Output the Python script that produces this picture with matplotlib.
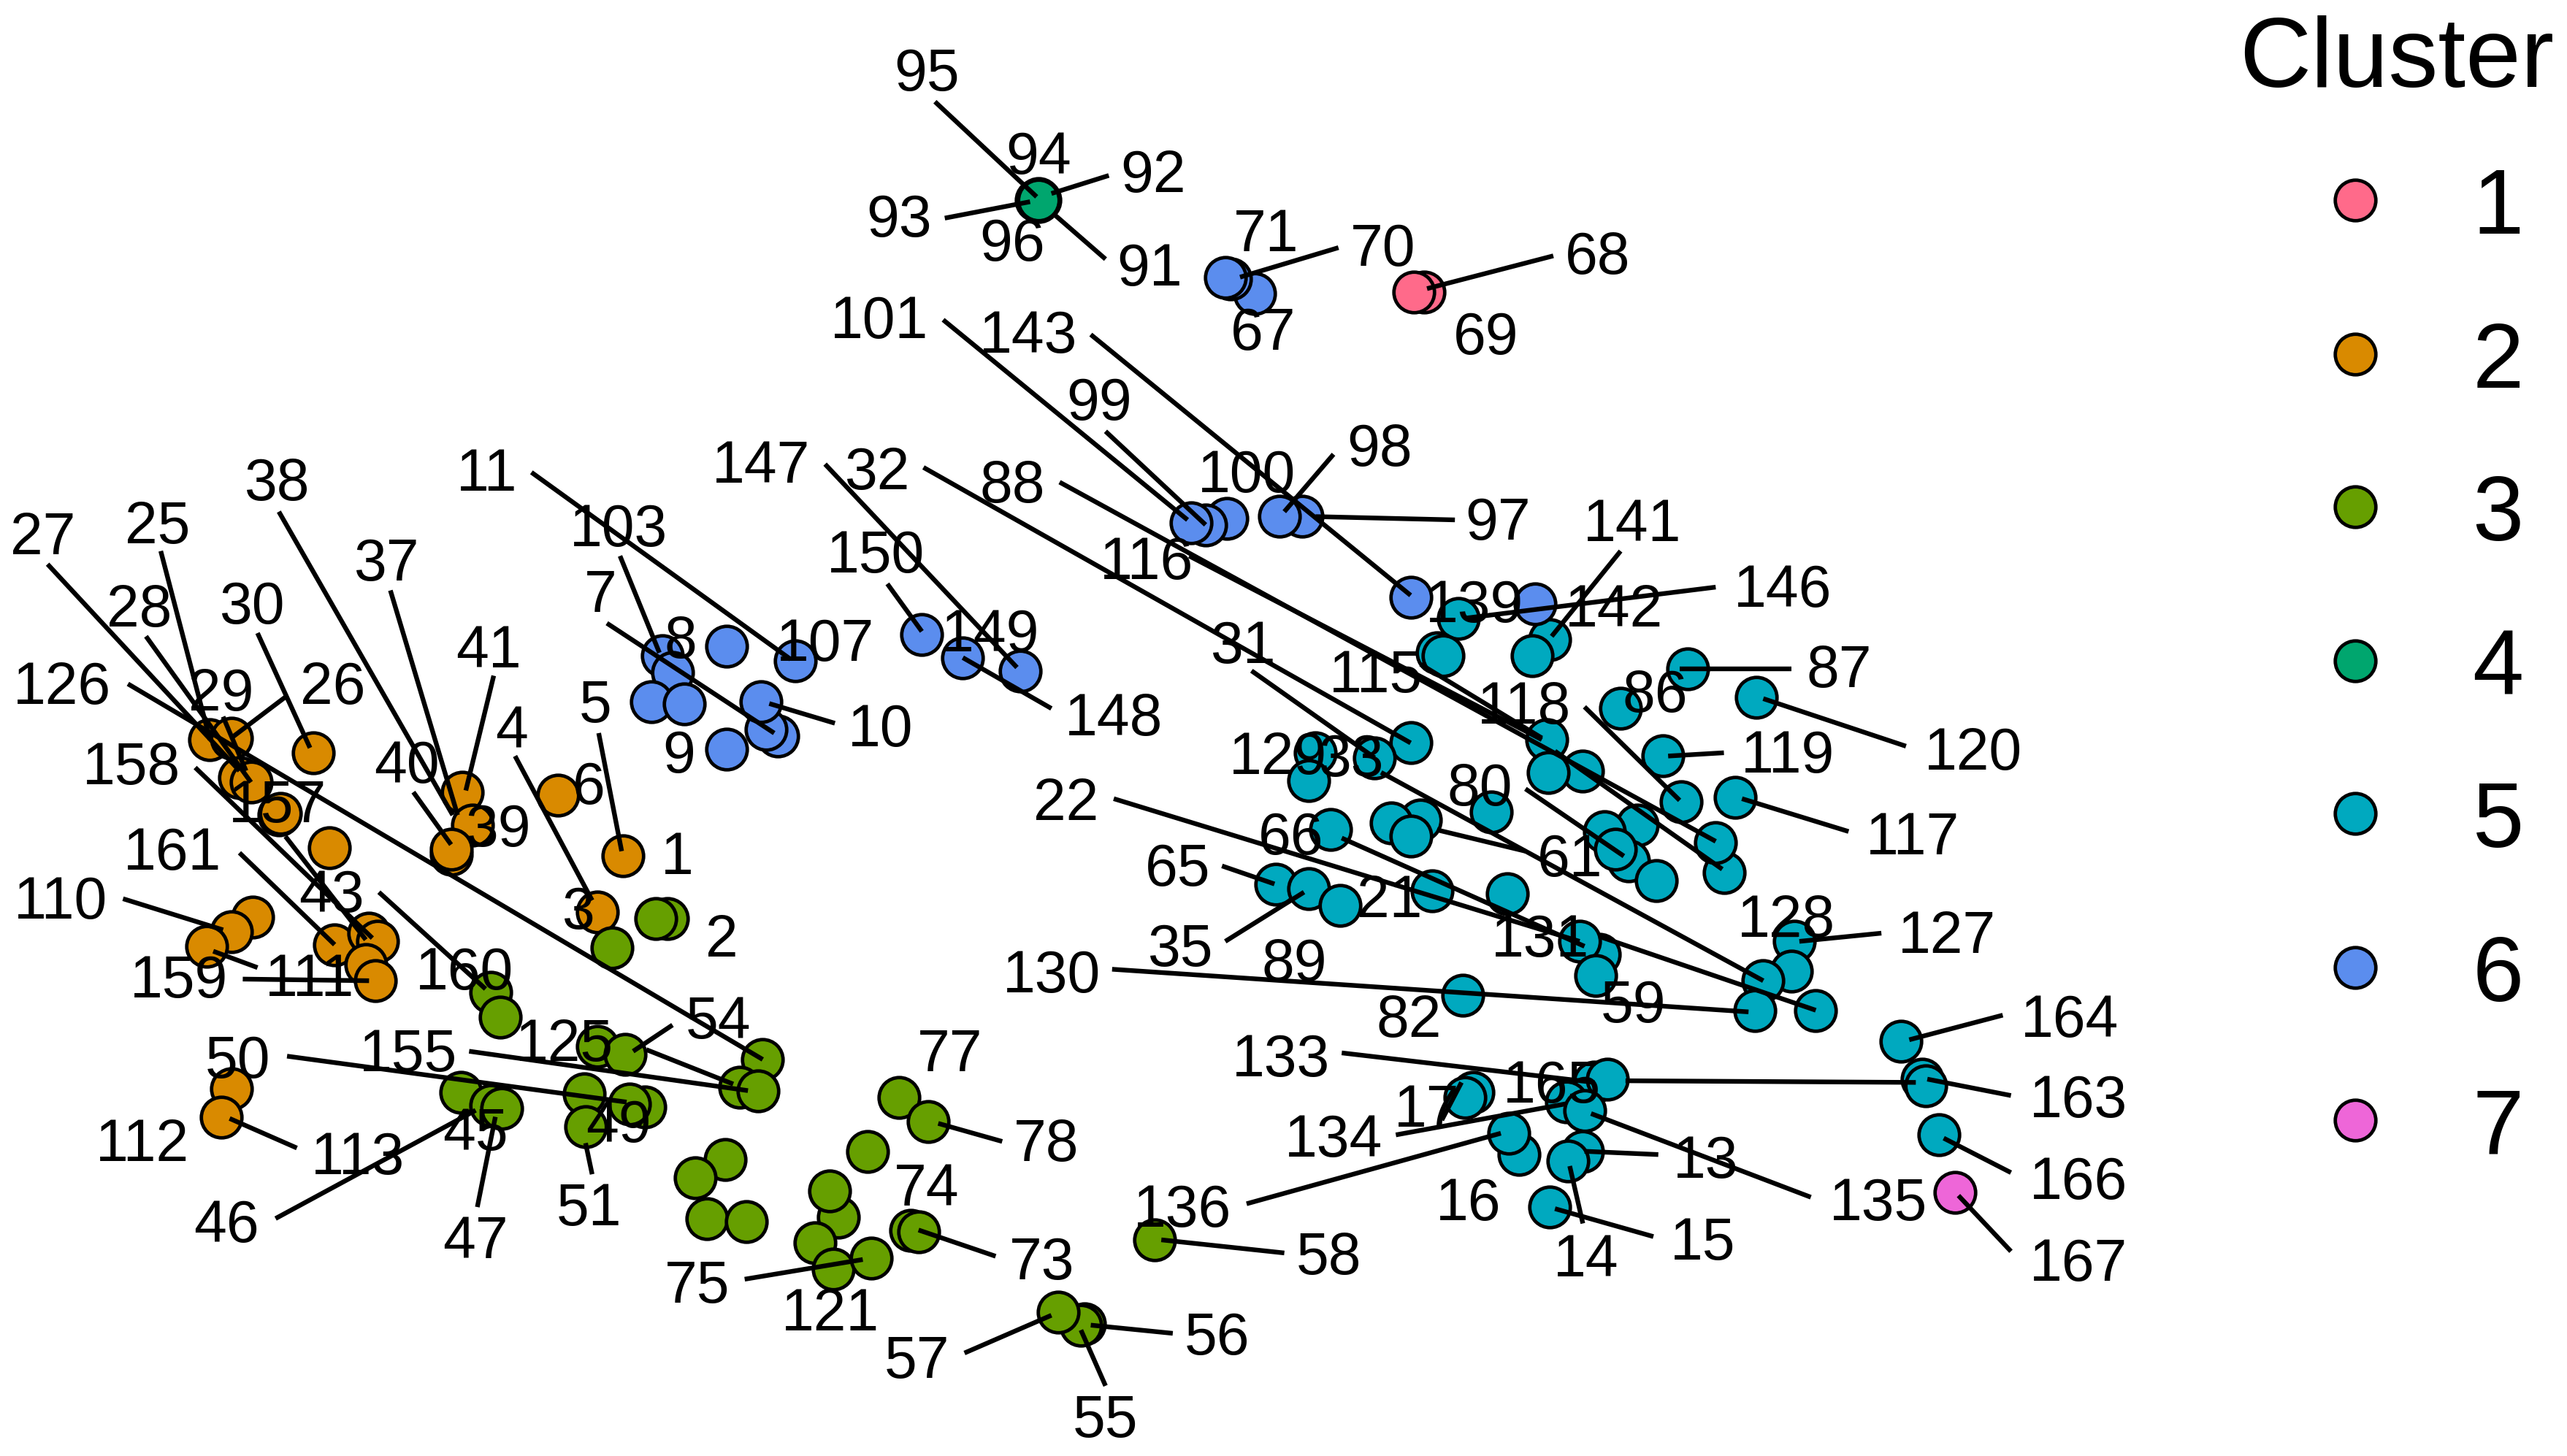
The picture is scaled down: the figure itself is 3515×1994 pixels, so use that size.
import matplotlib
matplotlib.use("Agg")
import matplotlib.pyplot as plt

plt.rcParams['font.family'] = ['Liberation Sans', 'DejaVu Sans']

# point positions, by cluster
c1_x = [868, 862]
c1_y = [178, 178]
c2_x = [128, 141, 191, 146, 153, 170, 171, 201, 282, 288, 275, 275, 340, 380, 364,
        154, 141, 126, 204, 225, 230, 223, 229, 141, 135]
c2_y = [451, 450, 459, 474, 477, 497, 496, 517, 483, 503, 521, 518, 485, 522, 556,
        559, 568, 577, 576, 569, 574, 588, 598, 664, 681]
c3_x = [407, 400, 373, 299, 305, 364, 381, 465, 451, 462, 281, 299, 306, 356, 393, 384, 357,
        548, 566, 529, 442, 424, 511, 506, 431, 455, 497, 508, 531, 555, 560, 704, 661, 659, 645]
c3_y = [560, 560, 578, 605, 620, 638, 643, 646, 663, 665, 666, 674, 676, 667, 675, 673, 687,
        669, 684, 702, 707, 718, 742, 726, 743, 745, 758, 774, 767, 750, 751, 756, 807, 808, 800]
c4_x = [633, 633, 634, 632, 633, 633]
c4_y = [122, 121, 122, 122, 123, 122]
c5_x = [889, 876, 880, 945, 934, 1029, 988, 1071, 943, 1014, 860, 838, 802, 798, 965, 944,
        1025, 1058, 1051, 1046, 998, 978, 993, 985, 1010, 811, 866, 848, 860, 909, 919, 873,
        778, 798, 817, 975, 963, 973, 1094, 1092, 1075, 1107, 1070, 892,
        1159, 1172, 1174, 1182, 972, 980, 955, 966, 898, 893, 926, 920, 965, 956, 945]
c5_y = [377, 398, 400, 390, 400, 408, 432, 425, 451, 461, 453, 462, 459, 476, 470, 471,
        489, 486, 532, 514, 503, 507, 525, 518, 537, 506, 500, 502, 510, 495, 545, 543,
        539, 542, 552, 582, 574, 595, 574, 592, 598, 616, 616, 607,
        635, 658, 662, 692, 660, 658, 672, 677, 666, 669, 704, 691, 702, 708, 736]
c6_x = [765, 750, 747, 794, 780, 748, 735, 726, 860, 936, 562, 587, 622,
        404, 410, 397, 417, 443, 485, 474, 467, 464, 443]
c6_y = [179, 170, 169, 315, 315, 316, 320, 319, 364, 368, 387, 401, 409,
        400, 410, 428, 429, 394, 403, 449, 445, 428, 457]
c7_x = [1192]
c7_y = [727]

cluster_x = [c1_x, c2_x, c3_x, c4_x, c5_x, c6_x, c7_x]
cluster_y = [c1_y, c2_y, c3_y, c4_y, c5_y, c6_y, c7_y]
cluster_names = ['1', '2', '3', '4', '5', '6', '7']
cluster_colors = ['#FF6A8A', '#D98A00', '#669F00', '#00A66E', '#00A9BF', '#5B8DEE', '#EE66D8']

# point labels
label_text = ['1', '2', '3', '4', '5', '6', '7', '8', '9', '10', '11', '13', '14', '15', '16', '17',
              '21', '22', '25', '26', '27', '28', '29', '30', '31', '32', '33', '35', '37', '38',
              '39', '40', '41', '43', '45', '46', '47', '49', '50', '51', '54', '55', '56', '57',
              '58', '59', '61', '65', '66', '67', '68', '69', '70', '71', '73', '74', '75', '77',
              '78', '80', '82', '86', '87', '88', '89', '91', '92', '93', '94', '95', '96', '97',
              '98', '99', '100', '101', '103', '107', '110', '111', '112', '113', '115', '116', '117', '118',
              '119', '120', '121', '125', '126', '127', '128', '129', '130', '131', '133', '134', '135', '136',
              '139', '141', '142', '143', '146', '147', '148', '149', '150', '155', '157', '158', '159', '160',
              '161', '163', '164', '165', '166', '167']
label_x = [414, 441, 354, 313, 364, 360, 367, 416, 415, 538, 298, 1041, 968, 1039, 896, 871,
           848, 651, 97, 204, 27, 86, 136, 155, 759, 536, 825, 721, 237, 170,
           305, 249, 299, 203, 291, 139, 291, 378, 146, 360, 439, 675, 743, 560,
           811, 997, 958, 719, 788, 771, 975, 907, 844, 773, 636, 566, 426, 580,
           639, 903, 860, 1010, 1122, 618, 790, 702, 704, 549, 634, 566, 618, 914,
           842, 671, 761, 537, 378, 504, 38, 190, 88, 219, 840, 700, 1167, 930,
           1091, 1204, 507, 345, 39, 1188, 1090, 780, 642, 940, 782, 814, 1146, 722,
           900, 996, 985, 628, 1088, 465, 680, 605, 535, 250, 170, 81, 110, 284,
           106, 1268, 1263, 947, 1268, 1268]
label_y = [522, 572, 555, 445, 429, 479, 362, 390, 460, 444, 288, 707, 767, 757, 733, 676,
           548, 489, 320, 418, 327, 371, 422, 369, 393, 287, 462, 578, 343, 294,
           505, 466, 396, 545, 690, 746, 756, 685, 646, 736, 622, 865, 815, 829,
           766, 612, 523, 529, 510, 202, 156, 205, 151, 142, 769, 724, 783, 642,
           697, 480, 621, 423, 408, 295, 587, 163, 106, 133, 95, 44, 148, 318,
           273, 245, 289, 195, 322, 392, 549, 596, 697, 705, 411, 342, 510, 430,
           460, 458, 800, 636, 418, 570, 560, 461, 594, 572, 645, 694, 733, 737,
           368, 319, 371, 204, 359, 283, 437, 386, 338, 642, 490, 467, 597, 592,
           519, 670, 621, 661, 720, 770]

# repel segments, label end then point end
seg_x0 = [570, 676, 576, 674, 816, 947, 575, 674, 665, 813, 887, 988, 1046, 503, 541, 641,
          29, 98, 89, 78, 157, 174, 136, 119, 174, 146, 75, 157, 148, 231,
          170, 238, 301, 252, 314, 365, 378, 370, 324, 509,
          286, 175, 410, 394, 181, 168, 291, 361, 611, 607, 454, 588, 715, 674, 783,
          760, 851, 818, 879, 991, 1226, 1221, 1226, 1226, 1104, 1011, 1008, 965, 678, 1147, 1080,
          1092, 1162, 1051, 1127, 966, 745, 747, 930, 930, 818, 679, 975, 842, 563, 763, 646, 725, 866, 948]
seg_y0 = [62, 107, 133, 158, 151, 156, 195, 263, 204, 277, 317, 336, 358, 283, 356, 432,
          344, 336, 388, 417, 386, 425, 437, 468, 510, 520, 548, 590, 597, 544,
          312, 360, 412, 483, 461, 447, 339, 380, 288, 441,
          641, 644, 625, 640, 700, 743, 736, 716, 696, 766, 780, 825, 813, 845, 764,
          734, 692, 642, 683, 659, 668, 619, 715, 763, 730, 704, 754, 746, 591, 569, 570,
          408, 455, 459, 507, 431, 528, 574, 481, 519, 511, 487, 571, 471, 285, 409, 294, 339, 405, 458]
seg_x1 = [632, 641, 628, 643, 756, 870, 724, 735, 860, 783, 802, 946, 893, 620, 562, 587,
          146, 128, 153, 465, 189, 141, 150, 227, 223, 204, 136, 130, 225, 296,
          276, 279, 284, 275, 361, 379, 402, 472, 482, 469,
          456, 382, 386, 447, 140, 290, 302, 357, 572, 560, 526, 641, 665, 659, 708,
          915, 955, 972, 891, 1168, 1175, 1164, 1185, 1194, 970, 966, 948, 957, 1066, 1097, 1096,
          1024, 1075, 1017, 1062, 1024, 777, 795, 990, 876, 966, 963, 1107, 1075, 860, 838, 1046, 940, 940, 1050]
seg_y1 = [120, 118, 123, 131, 169, 176, 317, 320, 363, 312, 315, 388, 377, 407, 385, 401,
          470, 451, 477, 646, 456, 450, 470, 572, 573, 576, 567, 580, 598, 603,
          497, 497, 482, 515, 549, 519, 398, 447, 402, 429,
          665, 672, 641, 661, 682, 677, 681, 697, 685, 750, 768, 802, 808, 811, 756,
          691, 673, 660, 660, 660, 658, 634, 694, 729, 679, 702, 737, 711, 617, 574, 570,
          408, 426, 461, 487, 488, 539, 544, 522, 506, 577, 574, 616, 598, 453, 462, 513, 451, 450, 530]

legend_y = [122, 216, 309, 403, 496, 590, 683]

fig = plt.figure(figsize=(35.15, 19.94), dpi=100)
ax = fig.add_axes([0, 0, 1, 1])
ax.set_xlim(0, 1565)
ax.set_ylim(887.8, 0)
ax.axis('off')

for xs, ys, col in zip(cluster_x, cluster_y, cluster_colors):
    ax.scatter(xs, ys, s=1600, c=col, edgecolors='black', linewidths=3.4, zorder=2)

for x0, y0, x1, y1 in zip(seg_x0, seg_y0, seg_x1, seg_y1):
    ax.plot([x0, x1], [y0, y1], color='black', lw=4.6, solid_capstyle='butt', zorder=3)

for t, x, y in zip(label_text, label_x, label_y):
    ax.text(x - 1, y - 2, t, fontsize=58, ha='center', va='center_baseline', zorder=4)

# legend
ax.text(1461, 31, 'Cluster', fontsize=98, ha='center', va='center_baseline')
for name, col, y in zip(cluster_names, cluster_colors, legend_y):
    ax.scatter([1436], [y], s=1600, c=col, edgecolors='black', linewidths=3.4, zorder=2)
    ax.text(1523, y, name, fontsize=91, ha='center', va='center_baseline')

fig.savefig('out.png', dpi=100)
